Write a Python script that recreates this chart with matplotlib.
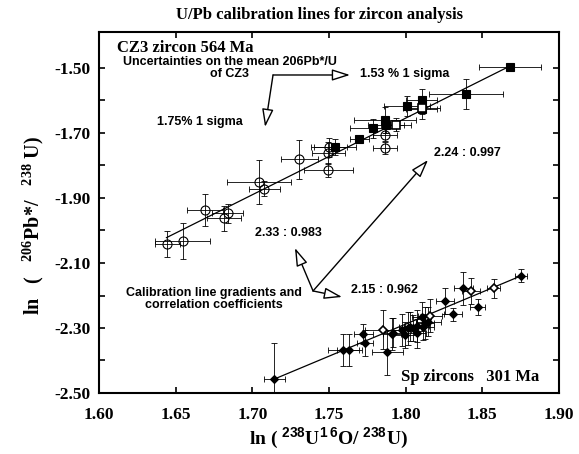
import matplotlib
matplotlib.use("Agg")
import matplotlib.pyplot as plt
import numpy as np

# ---------------- data ----------------
title = "U/Pb calibration lines for zircon analysis"

# CZ3 zircon, open circles
circ_x = [1.6446, 1.6546, 1.6691, 1.6817, 1.6839, 1.7042, 1.7078, 1.7306, 1.7496, 1.7496, 1.7500, 1.7865, 1.7865]
circ_y = [-2.0425, -2.0314, -1.9370, -1.9625, -1.9470, -1.8500, -1.8720, -1.7810, -1.7606, -1.8140, -1.7440, -1.7060, -1.7470]
circ_xerr = [0.008, 0.018, 0.012, 0.011, 0.010, 0.021, 0.010, 0.012, 0.011, 0.016, 0.012, 0.008, 0.008]
circ_yerr = [0.040, 0.055, 0.050, 0.038, 0.030, 0.068, 0.023, 0.060, 0.034, 0.022, 0.030, 0.020, 0.018]

# CZ3 zircon, filled squares
sq_x = [1.7539, 1.7698, 1.7789, 1.7865, 1.7872, 1.8007, 1.8104, 1.8104, 1.8394, 1.8681]
sq_y = [-1.742, -1.718, -1.686, -1.660, -1.675, -1.617, -1.600, -1.627, -1.580, -1.496]
sq_xerr = [0.014, 0.006, 0.015, 0.020, 0.012, 0.015, 0.010, 0.010, 0.024, 0.020]
sq_yerr = [0.025, 0.012, 0.030, 0.040, 0.025, 0.030, 0.035, 0.030, 0.046, 0.012]

# CZ3 zircon, open squares
osq_x = [1.7937, 1.8104]
osq_y = [-1.675, -1.623]
osq_xerr = [0.010, 0.012]
osq_yerr = [0.020, 0.020]

# Sp zircons, filled diamonds
dia_x = [1.7144, 1.7594, 1.7633, 1.7724, 1.7735, 1.7880, 1.7909, 1.7919, 1.7974, 1.7996, 1.8017, 1.8028,
         1.8050, 1.8072, 1.8072, 1.8104, 1.8115, 1.8126, 1.8148, 1.8257, 1.8307, 1.8376, 1.8470, 1.8750]
dia_y = [-2.457, -2.368, -2.368, -2.318, -2.345, -2.375, -2.318, -2.314, -2.306, -2.322, -2.301, -2.296,
         -2.301, -2.294, -2.316, -2.265, -2.296, -2.285, -2.281, -2.216, -2.257, -2.178, -2.236, -2.140]
dia_xerr = [0.007, 0.010, 0.008, 0.006, 0.005, 0.010, 0.006, 0.007, 0.006, 0.008, 0.006, 0.007,
            0.006, 0.008, 0.006, 0.006, 0.007, 0.006, 0.008, 0.006, 0.006, 0.006, 0.005, 0.004]
dia_yerr = [0.110, 0.050, 0.050, 0.030, 0.040, 0.070, 0.050, 0.045, 0.050, 0.040, 0.050, 0.045,
            0.040, 0.050, 0.045, 0.045, 0.040, 0.050, 0.045, 0.040, 0.020, 0.050, 0.025, 0.020]

# Sp zircons, open diamonds
odia_x = [1.7854, 1.8159, 1.8426, 1.8573]
odia_y = [-2.306, -2.262, -2.185, -2.178]
odia_xerr = [0.012, 0.008, 0.006, 0.004]
odia_yerr = [0.060, 0.050, 0.040, 0.030]

# calibration lines
cz3_line_x = [1.644, 1.868]
cz3_line_y = [-2.022, -1.494]
sp_line_x = [1.7144, 1.875]
sp_line_y = [-2.457, -2.140]

xticks = [1.60, 1.65, 1.70, 1.75, 1.80, 1.85, 1.90]
xticklabels = ["1.60", "1.65", "1.70", "1.75", "1.80", "1.85", "1.90"]
yticks = [-2.5, -2.4, -2.3, -2.2, -2.1, -2.0, -1.9, -1.8, -1.7, -1.6, -1.5]
yticklabels = ["-2.50", "", "-2.30", "", "-2.10", "", "-1.90", "", "-1.70", "", "-1.50"]

# ---------------- style ----------------
plt.rcParams['mathtext.fontset'] = 'custom'
plt.rcParams['mathtext.rm'] = 'Liberation Serif:bold'
plt.rcParams['mathtext.bf'] = 'Liberation Serif:bold'
plt.rcParams['mathtext.sf'] = 'Liberation Sans:bold'

SERIF = 'Liberation Serif'
SANS = 'Liberation Sans'

fig = plt.figure(figsize=(5.79, 4.54), dpi=100)
ax = fig.add_axes([99/579, 1-393/454, 460/579, 361/454])

ax.set_xlim(1.60, 1.90)
ax.set_ylim(-2.50, -2.50 + 361/325)

eb = dict(fmt='none', ecolor='black', elinewidth=0.6, capsize=2, capthick=0.6, zorder=2)
ax.errorbar(circ_x, circ_y, xerr=circ_xerr, yerr=circ_yerr, **eb)
ax.errorbar(sq_x, sq_y, xerr=sq_xerr, yerr=sq_yerr, **eb)
ax.errorbar(osq_x, osq_y, xerr=osq_xerr, yerr=osq_yerr, **eb)
ax.errorbar(dia_x, dia_y, xerr=dia_xerr, yerr=dia_yerr, **eb)
ax.errorbar(odia_x, odia_y, xerr=odia_xerr, yerr=odia_yerr, **eb)

ax.plot(cz3_line_x, cz3_line_y, color='black', lw=0.9, zorder=3)
ax.plot(sp_line_x, sp_line_y, color='black', lw=0.9, zorder=3)

ax.plot(circ_x, circ_y, 'o', ms=6.5, mfc='none', mec='black', mew=0.8, zorder=4)
ax.plot(sq_x, sq_y, 's', ms=6, mfc='black', mec='black', mew=0.8, zorder=4)
ax.plot(osq_x, osq_y, 's', ms=6, mfc='white', mec='black', mew=1.2, zorder=4)
ax.plot(dia_x, dia_y, 'D', ms=4.5, mfc='black', mec='black', mew=0.8, zorder=4)
ax.plot(odia_x, odia_y, 'D', ms=4.5, mfc='white', mec='black', mew=1.2, zorder=4)

# ticks & spines
ax.set_xticks(xticks)
ax.set_xticklabels(xticklabels, fontfamily=SERIF, fontweight='bold', fontsize=12.5)
ax.set_yticks(yticks)
ax.set_yticklabels(yticklabels, fontfamily=SERIF, fontweight='bold', fontsize=12.5)
ax.tick_params(direction='in', length=4, width=1.2, top=True, right=True)
ax.tick_params(axis='x', pad=10)
ax.tick_params(axis='y', pad=6)
for s in ax.spines.values():
    s.set_linewidth(1.5)

fig.text(328/579, 1-438/454, r"ln ( $\mathsf{^{238}}$U$\mathsf{^{1\,6}}$O/ $\mathsf{^{238}}$U)",
         fontfamily=SERIF, fontweight='bold', fontsize=14, ha='center', va='center')
fig.text(33/579, 1-226/454, r"ln   (   $^{206}$Pb*/   $^{238}$ U)", rotation=90,
         fontfamily=SERIF, fontweight='bold', fontsize=14.5, ha='center', va='center')

fig.text(320/579, 1-15/454, title, fontfamily=SERIF, fontweight='bold', fontsize=12,
         ha='center', va='center')

# annotations
ann = dict(fontfamily=SANS, fontweight='bold', fontsize=9)
ax.text(1.6117, -1.4385, "CZ3 zircon 564 Ma", fontfamily=SERIF, fontweight='bold',
        fontsize=12, ha='left', va='center')
ax.text(1.6854, -1.5015, "Uncertainties on the mean 206Pb*/U\nof CZ3",
        ha='center', va='center', multialignment='center', linespacing=1.0, **ann)
ax.text(1.7702, -1.5185, "1.53 % 1 sigma", ha='left', va='center', **ann)
ax.text(1.6378, -1.666, "1.75% 1 sigma", ha='left', va='center', **ann)
ax.text(1.8185, -1.7615, "2.24 : 0.997", ha='left', va='center', **ann)
ax.text(1.7017, -2.0077, "2.33 : 0.983", ha='left', va='center', **ann)
ax.text(1.7643, -2.183, "2.15 : 0.962", ha='left', va='center', **ann)
ax.text(1.675, -2.2123, "Calibration line gradients and\ncorrelation coefficients",
        ha='center', va='center', multialignment='center', linespacing=1.0, **ann)
ax.text(1.7969, -2.4508, "Sp zircons   301 Ma", fontfamily=SERIF, fontweight='bold',
        fontsize=12, ha='left', va='center')

arrow = dict(arrowstyle='-|>,head_length=1.1,head_width=0.35', fc='white', ec='black',
             lw=1.0, shrinkA=0, shrinkB=0)
for tip in [(1.7637, -1.5215), (1.7083, -1.6815)]:
    ax.annotate('', xy=tip, xytext=(1.7135, -1.5215), arrowprops=arrow, zorder=5)
for tip in [(1.7278, -2.0538), (1.7585, -2.2045), (1.8146, -1.783)]:
    ax.annotate('', xy=tip, xytext=(1.7396, -2.186), arrowprops=arrow, zorder=5)

fig.savefig("out.png", dpi=100)
